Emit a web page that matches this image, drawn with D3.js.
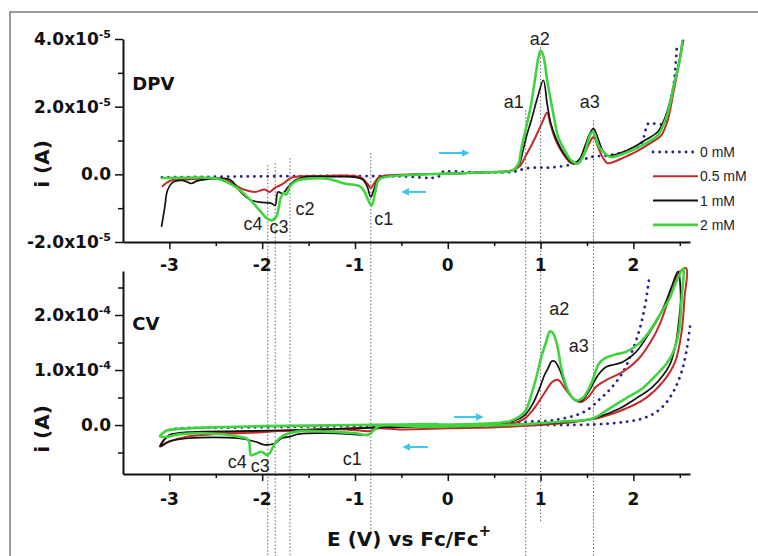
<!DOCTYPE html>
<html>
<head>
<meta charset="utf-8">
<script src="https://cdn.jsdelivr.net/npm/d3@7.9.0/dist/d3.min.js"></script>
<style>
  body { margin: 0; background: #fff; }
  svg { display: block; }
  .bold { font-family: 'DejaVu Sans', sans-serif; font-weight: bold; fill: #111; }
  .plain { font-family: 'Liberation Sans', Arial, sans-serif; fill: #222; }
</style>
</head>
<body>
<svg width="758" height="556"></svg>
<script>
// ---- data (currents in units of 1e-5 A) ----
const concentrations = ['0 mM', '0.5 mM', '1 mM', '2 mM'];
const colors = ['#24248f', '#c42a2a', '#111111', '#3fd43f'];

const xTicks = [-3, -2, -1, 0, 1, 2];
const xMinorTicks = [-2.5, -1.5, -0.5, 0.5, 1.5, 2.5];

const dpvTicks = [-2, 0, 2, 4];
const dpvTickLabels = [['-2.0x10', '-5'], ['0.0', ''], ['2.0x10', '-5'], ['4.0x10', '-5']];
const dpvMinorTicks = [-1, 1, 3];

const cvTicks = [0, 10, 20];
const cvTickLabels = [['0.0', ''], ['1.0x10', '-4'], ['2.0x10', '-4']];
const cvMinorTicks = [-5, 5, 15, 25];

const dpvBlue = [[-3.08,-0.09],[-2.5,-0.07],[-2.0,-0.06],[-1.5,-0.05],[-1.0,-0.05],[-0.5,-0.06],[-0.1,-0.07],[-0.08,0.05],
  [0.3,0.06],[0.72,0.08],[0.83,0.17],[0.97,0.2],[1.08,0.2],[1.33,0.29],[1.54,0.51],[1.72,0.56],[1.9,0.66],[2.05,0.8],
  [2.1,1.0],[2.13,1.3],[2.16,1.5],[2.33,1.5],[2.4,2.09],[2.44,2.78],[2.47,3.8]];

const dpvRed = [[-3.08,-0.37],[-3.03,-0.25],[-2.98,-0.18],[-2.8,-0.15],[-2.6,-0.12],[-2.4,-0.15],[-2.3,-0.3],[-2.2,-0.45],
  [-2.08,-0.52],[-1.97,-0.45],[-1.92,-0.52],[-1.86,-0.39],[-1.81,-0.33],[-1.76,-0.25],[-1.7,-0.12],[-1.6,-0.06],[-1.4,-0.05],
  [-1.0,-0.05],[-0.92,-0.12],[-0.86,-0.3],[-0.83,-0.41],[-0.79,-0.25],[-0.74,-0.08],[-0.6,-0.02],[-0.3,0.0],[0,0.02],
  [0.4,0.06],[0.7,0.12],[0.78,0.25],[0.84,0.55],[0.9,0.85],[0.97,1.25],[1.02,1.55],[1.07,1.83],[1.1,1.55],[1.15,1.1],
  [1.2,0.8],[1.27,0.5],[1.33,0.33],[1.4,0.35],[1.47,0.6],[1.53,0.95],[1.57,1.1],[1.62,0.8],[1.67,0.5],[1.72,0.33],
  [1.8,0.38],[1.9,0.5],[2.05,0.7],[2.2,0.95],[2.3,1.15],[2.37,1.6],[2.43,2.4],[2.48,3.1],[2.53,3.95]];

const dpvBlack = [[-3.085,-1.55],[-3.05,-0.97],[-3.02,-0.47],[-2.96,-0.23],[-2.86,-0.18],[-2.76,-0.27],[-2.71,-0.2],
  [-2.6,-0.15],[-2.35,-0.15],[-2.24,-0.5],[-2.13,-0.75],[-2.03,-0.82],[-1.9,-0.86],[-1.86,-0.92],[-1.83,-0.52],
  [-1.78,-0.57],[-1.72,-0.37],[-1.65,-0.18],[-1.55,-0.08],[-1.2,-0.07],[-1.0,-0.08],[-0.92,-0.15],[-0.87,-0.35],
  [-0.83,-0.67],[-0.79,-0.4],[-0.74,-0.12],[-0.6,-0.04],[-0.3,0.0],[0,0.02],[0.4,0.06],[0.7,0.12],[0.77,0.3],
  [0.81,0.7],[0.85,1.15],[0.9,1.6],[0.97,2.3],[1.03,2.78],[1.07,2.1],[1.11,1.5],[1.16,1.1],[1.22,0.75],[1.28,0.5],
  [1.35,0.33],[1.42,0.45],[1.48,0.85],[1.53,1.2],[1.57,1.35],[1.62,1.05],[1.67,0.7],[1.73,0.55],[1.85,0.62],
  [2.0,0.8],[2.12,1.0],[2.26,1.25],[2.33,1.6],[2.38,2.0],[2.44,2.7],[2.5,3.4],[2.54,3.98]];

const dpvGreen = [[-3.085,-0.11],[-2.8,-0.1],[-2.6,-0.1],[-2.45,-0.15],[-2.3,-0.35],[-2.24,-0.47],[-2.13,-0.75],
  [-2.03,-1.06],[-1.95,-1.3],[-1.9,-1.36],[-1.85,-1.26],[-1.8,-0.7],[-1.77,-0.55],[-1.74,-0.6],[-1.7,-0.35],
  [-1.62,-0.18],[-1.5,-0.13],[-1.3,-0.13],[-1.2,-0.2],[-1.1,-0.28],[-0.95,-0.35],[-0.9,-0.5],[-0.86,-0.75],
  [-0.82,-0.92],[-0.78,-0.5],[-0.74,-0.15],[-0.6,-0.05],[-0.3,-0.01],[0,0.02],[0.4,0.06],[0.7,0.12],[0.76,0.3],
  [0.79,0.71],[0.82,1.1],[0.85,1.45],[0.9,2.1],[0.95,3.0],[0.98,3.5],[1.0,3.66],[1.03,3.5],[1.07,2.8],[1.11,2.19],
  [1.15,1.6],[1.19,1.1],[1.26,0.71],[1.33,0.41],[1.4,0.32],[1.47,0.61],[1.54,1.2],[1.57,1.25],[1.63,0.81],
  [1.72,0.56],[1.76,0.51],[1.94,0.66],[2.12,0.9],[2.26,1.15],[2.33,1.5],[2.37,1.8],[2.44,2.68],[2.5,3.37],[2.53,3.96]];

// CV loops, in scan order (null = gap where the trace leaves the frame)
const cvBlue = [[-3.0,-0.9],[-2.9,-0.6],[-2.5,-0.5],[-2.0,-0.4],[-1.5,-0.3],[-1.0,-0.2],[-0.5,-0.2],[0,-0.1],
  [0.5,0.2],[0.86,0.6],[1.15,0.9],[1.47,2.4],[1.65,4.9],[1.76,6.7],[1.89,9.7],[1.97,12.7],[2.06,17],[2.12,21.2],
  [2.17,26.7], null, [2.61,17.9],[2.57,13.3],[2.52,9.7],[2.45,6.7],[2.36,4.2],[2.25,2.4],[2.1,1.2],[1.92,0.6],
  [1.56,0.1],[0.84,0.0]];

const cvRed = [[-0.1,-0.5],[0.2,-0.4],[0.5,-0.1],[0.7,0.3],[0.83,1.2],[0.95,3.5],[1.03,5.5],[1.13,7.9],[1.19,8.2],
  [1.26,6.7],[1.35,4.85],[1.44,4.2],[1.52,5.2],[1.6,7.0],[1.71,8.2],[1.89,9.7],[2.06,12.1],[2.21,15.8],[2.3,19],
  [2.37,22.4],[2.44,26],[2.5,27.9],
  [2.57,28.5],[2.55,23],[2.52,17],[2.45,11.5],[2.32,7.9],[2.13,4.85],[1.92,3.0],[1.67,1.5],[1.38,0.6],[0.67,-0.3],
  [0,-0.6],[-0.5,-0.8],[-0.75,-0.6],[-0.8,-0.9],[-0.84,-1.1],[-1.16,-0.75],[-1.6,-0.9],[-2.0,-1.3],[-2.26,-1.5],
  [-2.8,-2.1],[-3.01,-3.1],[-3.1,-3.9],
  [-3.05,-2.6],[-3.0,-1.9],[-2.8,-1.5],[-2.26,-1.2],[-1.5,-1.0],[-1.0,-0.6],[-0.5,-0.3],[-0.1,-0.2]];

const cvBlack = [[-0.1,0.0],[0.3,0.1],[0.6,0.4],[0.7,0.7],[0.83,1.8],[0.92,4.0],[0.99,6.7],[1.04,9.0],[1.08,10.3],
  [1.12,11.6],[1.15,11.6],[1.2,10.3],[1.28,6.7],[1.37,4.5],[1.44,4.4],[1.52,6.1],[1.62,9.1],[1.71,10.6],[1.8,11.0],
  [1.89,11.5],[2.03,13.3],[2.18,17],[2.27,19.5],[2.35,22.4],[2.42,25.5],[2.48,27.9],
  [2.51,23],[2.49,19],[2.46,15.1],[2.39,10.9],[2.21,7.0],[2.03,4.85],[1.85,3.0],[1.63,1.5],[1.38,0.7],[0.9,0.2],
  [0.4,-0.2],[0,-0.3],[-0.5,-0.4],[-0.75,-0.3],[-0.8,-0.9],[-0.85,-1.7],[-1.2,-1.5],[-1.6,-1.6],[-1.7,-2.1],
  [-1.79,-2.4],[-1.86,-3.3],[-1.97,-3.6],[-2.08,-3.0],[-2.26,-2.4],[-2.8,-2.4],[-3.01,-3.0],[-3.1,-3.9],
  [-3.05,-2.5],[-3.0,-1.8],[-2.8,-1.3],[-2.26,-1.1],[-1.6,-0.9],[-1.0,-0.6],[-0.5,-0.3],[-0.1,-0.1]];

const cvGreen = [[-0.1,0.1],[0.3,0.2],[0.6,0.5],[0.7,0.9],[0.83,2.4],[0.9,5.5],[0.96,9.1],[1.01,12.5],[1.06,15.1],
  [1.1,17.0],[1.13,16.8],[1.17,15.1],[1.24,9.1],[1.31,5.8],[1.38,4.5],[1.45,4.85],[1.54,7.3],[1.63,11.2],[1.7,12.2],
  [1.8,12.8],[1.92,13.3],[2.06,14.8],[2.15,16.5],[2.24,18.8],[2.32,21],[2.39,23],[2.46,26],[2.54,28.5],
  [2.53,25],[2.52,23],[2.49,17],[2.43,13.3],[2.36,11.2],[2.28,9.7],[2.1,6.7],[1.92,4.85],[1.74,3.0],[1.56,1.2],
  [1.2,0.6],[0.67,0.0],[0.2,-0.2],[-0.3,-0.3],[-0.74,-0.2],[-0.8,-1.0],[-0.86,-1.8],[-1.0,-1.5],[-1.3,-1.2],
  [-1.6,-1.1],[-1.79,-2.1],[-1.86,-3.3],[-1.94,-5.45],[-2.01,-4.85],[-2.06,-5.15],[-2.12,-5.45],[-2.15,-2.7],
  [-2.26,-2.1],[-2.62,-1.5],[-2.9,-1.7],[-3.01,-2.1],[-3.1,-2.1],
  [-3.05,-1.2],[-3.01,-0.9],[-2.8,-0.6],[-2.5,-0.4],[-2.0,-0.2],[-1.5,-0.1],[-1.0,0.0],[-0.5,0.1],[-0.1,0.2]];

// peak markers: x position, top end (DPV units), bottom end (CV units)
const markerX = [-1.94, -1.86, -1.70, -0.83, 0.84, 1.0, 1.57];
const markerTop = [0.27, 0.33, 0.48, 0.63, 1.9, 3.76, 1.6];
const markerBottom = [-23.8, -23.8, -23.8, -19.6, -23.8, -17.8, -23.8];

// scan direction arrows: [from x, to x, y]
const dpvArrows = [[-0.095, 0.218, 0.63], [-0.235, -0.483, -0.52]];
const cvArrows = [[0.067, 0.368, 1.45], [-0.213, -0.472, -4.0]];

const dpvLabels = [['a1', 0.71, 1.96], ['a2', 0.99, 3.82], ['a3', 1.53, 1.96], ['c1', -0.69, -1.5],
  ['c2', -1.54, -1.2], ['c3', -1.82, -1.74], ['c4', -2.10, -1.65]];
const cvLabels = [['a2', 1.20, 20], ['a3', 1.41, 13.3], ['c1', -1.03, -7.3], ['c3', -2.02, -8.5], ['c4', -2.27, -7.8]];

// ---- chart ----
const svg = d3.select('svg');

const x = d3.scaleLinear().domain([-3.5, 2.61]).range([123, 690]);
const yDpv = d3.scaleLinear().domain([-2, 4]).range([242, 39]);
const yCv = d3.scaleLinear().domain([-8.9, 28]).range([474, 271]);

// frame
svg.append('rect')
  .attr('x', 10).attr('y', 12).attr('width', 800).attr('height', 600)
  .attr('fill', 'none').attr('stroke', '#7a7a7a').attr('stroke-width', 1.5);

svg.append('defs').append('marker')
  .attr('id', 'head')
  .attr('viewBox', '0 0 10 10').attr('refX', 8).attr('refY', 5)
  .attr('markerWidth', 4).attr('markerHeight', 4).attr('orient', 'auto')
  .append('path').attr('d', 'M0,0 L10,5 L0,10 Z').attr('fill', '#3cc8ea');

// dotted peak markers
markerX.forEach((mx, i) => {
  svg.append('line')
    .attr('x1', x(mx)).attr('x2', x(mx))
    .attr('y1', yDpv(markerTop[i])).attr('y2', yCv(markerBottom[i]))
    .attr('stroke', '#666').attr('stroke-width', 1).attr('stroke-dasharray', '1.5,2');
});

function drawPanel(y, ticks, tickLabels, minorTicks, series, arrows, labels, name, nameY, titleY) {
  let xAxis = svg.append('g')
    .attr('transform', `translate(0,${y.range()[0]})`)
    .call(d3.axisBottom(x).tickValues(xTicks).tickSize(7).tickSizeOuter(0).tickFormat(''));
  svg.append('g')
    .attr('transform', `translate(0,${y.range()[0]})`)
    .call(d3.axisBottom(x).tickValues(xMinorTicks).tickSize(4).tickSizeOuter(0).tickFormat(''))
    .select('.domain').remove();
  let yAxis = svg.append('g')
    .attr('transform', `translate(${x.range()[0]},0)`)
    .call(d3.axisLeft(y).tickValues(ticks).tickSize(8).tickSizeOuter(0).tickFormat(''));
  svg.append('g')
    .attr('transform', `translate(${x.range()[0]},0)`)
    .call(d3.axisLeft(y).tickValues(minorTicks).tickSize(5).tickSizeOuter(0).tickFormat(''))
    .select('.domain').remove();
  [xAxis, yAxis].forEach(g => g.select('.domain').attr('stroke', '#111').attr('stroke-width', 2));
  svg.selectAll('.tick line').attr('stroke', '#111').attr('stroke-width', 1.5);

  xTicks.forEach(t => {
    svg.append('text').attr('class', 'bold')
      .attr('x', x(t)).attr('y', y.range()[0] + (name === 'DPV' ? 29 : 31))
      .attr('text-anchor', 'middle').attr('font-size', 17)
      .text(t);
  });

  ticks.forEach((t, i) => {
    let txt = svg.append('text').attr('class', 'bold')
      .attr('x', 111).attr('y', y(t) + 6)
      .attr('text-anchor', 'end').attr('font-size', 17);
    txt.append('tspan').text(tickLabels[i][0]);
    if (tickLabels[i][1]) {
      txt.append('tspan').attr('dy', -7).attr('font-size', 11).text(tickLabels[i][1]);
    }
  });

  svg.append('text').attr('class', 'bold')
    .attr('transform', `translate(49,${titleY}) rotate(-90)`)
    .attr('text-anchor', 'middle').attr('font-size', 20)
    .text('i (A)');

  svg.append('text').attr('class', 'bold')
    .attr('x', x(-3.4)).attr('y', y(nameY)).attr('font-size', 18)
    .text(name);

  let line = d3.line()
    .defined(d => d !== null)
    .x(d => x(d[0])).y(d => y(d[1]))
    .curve(d3.curveCatmullRom.alpha(0.5));

  series.forEach((s, idx) => {
    let path = svg.append('path')
      .attr('d', line(s))
      .attr('fill', 'none')
      .attr('stroke', colors[idx])
      .attr('stroke-linejoin', 'round');
    if (idx === 0) {
      path.attr('stroke-width', 2.8).attr('stroke-dasharray', '0.1,6.5').attr('stroke-linecap', 'round');
    } else {
      path.attr('stroke-width', idx === 3 ? 2.6 : (idx === 1 ? 2 : 1.7));
    }
  });

  arrows.forEach(a => {
    svg.append('line')
      .attr('x1', x(a[0])).attr('x2', x(a[1]))
      .attr('y1', y(a[2])).attr('y2', y(a[2]))
      .attr('stroke', '#3cc8ea').attr('stroke-width', 2)
      .attr('marker-end', 'url(#head)');
  });

  labels.forEach(l => {
    svg.append('text').attr('class', 'plain')
      .attr('x', x(l[1])).attr('y', y(l[2]))
      .attr('text-anchor', 'middle').attr('font-size', 18)
      .text(l[0]);
  });
}

drawPanel(yDpv, dpvTicks, dpvTickLabels, dpvMinorTicks, [dpvBlue, dpvRed, dpvBlack, dpvGreen],
  dpvArrows, dpvLabels, 'DPV', 2.49, 164);
drawPanel(yCv, cvTicks, cvTickLabels, cvMinorTicks, [cvBlue, cvRed, cvBlack, cvGreen],
  cvArrows, cvLabels, 'CV', 17.3, 429);

// legend
concentrations.forEach((c, idx) => {
  let ly = 152 + idx * 24.3;
  let l = svg.append('line')
    .attr('x1', 653).attr('x2', 698).attr('y1', ly).attr('y2', ly)
    .attr('stroke', colors[idx]);
  if (idx === 0) {
    l.attr('stroke-width', 2.8).attr('stroke-dasharray', '0.1,6.5').attr('stroke-linecap', 'round');
  } else {
    l.attr('stroke-width', idx === 3 ? 2.6 : 2);
  }
  svg.append('text').attr('class', 'plain')
    .attr('x', 700).attr('y', ly + 5).attr('font-size', 14)
    .text(c);
});

// x axis title
let title = svg.append('text').attr('class', 'bold')
  .attr('x', 327).attr('y', 546).attr('font-size', 20);
title.append('tspan').text('E (V) vs Fc/Fc');
title.append('tspan').attr('dy', -10).attr('font-size', 15).text('+');
</script>
</body>
</html>
